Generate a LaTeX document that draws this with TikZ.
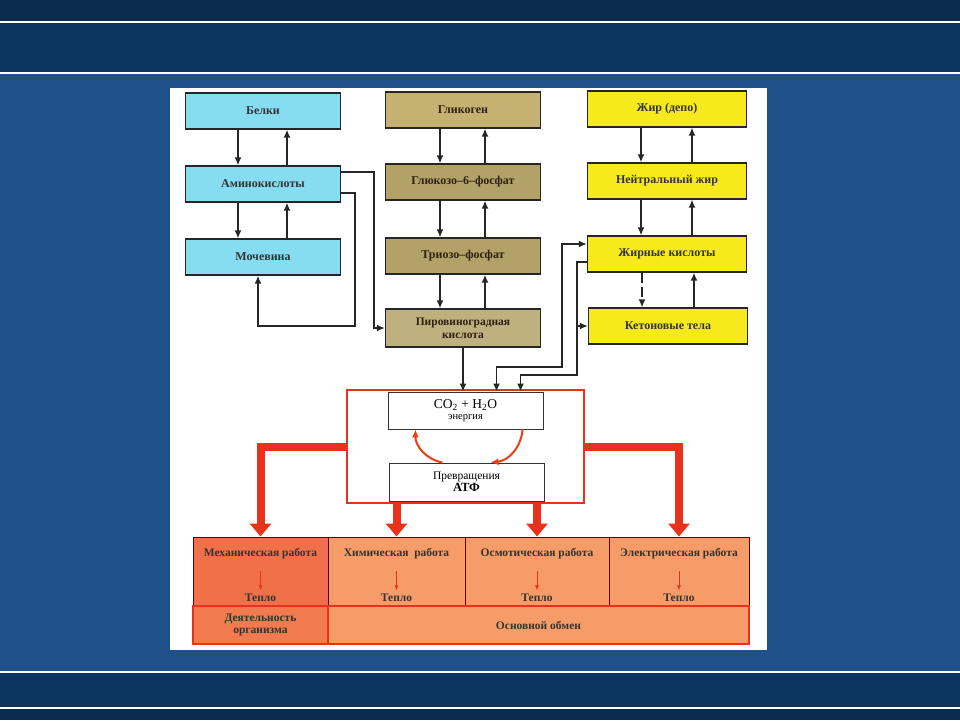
\documentclass[tikz,border=0pt]{standalone}
\usepackage{fontspec}
\setmainfont{Liberation Serif}
\usetikzlibrary{arrows.meta}
\definecolor{slideblue}{HTML}{1F5089}
\definecolor{slidedark}{HTML}{0B2C4D}
\definecolor{slideband}{HTML}{0D365F}
\definecolor{protein}{HTML}{86DDF2}
\definecolor{carb}{HTML}{B3A268}
\definecolor{fat}{HTML}{F7EA1C}
\definecolor{atpred}{HTML}{E8321C}
\definecolor{workorange}{HTML}{F59C69}
\definecolor{mechred}{HTML}{F07149}

\begin{document}
\begin{tikzpicture}[x=1pt,y=-1pt,>={Latex[length=8pt,width=7pt]},
    box/.style={draw=black!85,line width=1.3pt,minimum width=155pt,minimum height=36pt,
        inner sep=2pt,align=center,text=black!80,font=\fontsize{12}{13}\selectfont\bfseries},
    inbox/.style={draw=black!80,line width=0.9pt,fill=white,minimum width=155pt,
        minimum height=37pt,inner sep=1pt,align=center},
    link/.style={->,line width=1.5pt,draw=black!85},
    cyclearr/.style={->,line width=2pt,draw=atpred!85!orange},
    bigarr/.style={draw=atpred,line width=8pt,-{Triangle[width=21pt,length=13pt]}},
    cell/.style={draw=red!35!black,line width=1pt,minimum height=69pt,inner sep=0pt},
    basecell/.style={draw=atpred,line width=2pt,minimum height=38pt,inner sep=0pt,align=center,
        font=\fontsize{11.5}{12}\selectfont\bfseries,text=black!80},
    worktext/.style={inner sep=1pt,font=\fontsize{11.5}{12}\selectfont\bfseries,text=black!80},
    heatarr/.style={-{Latex[length=5pt,width=4pt]},line width=1pt,draw=atpred,shorten <=11pt,shorten >=2pt}]
    % slide
    \useasboundingbox (0,0) rectangle (960,720);
    \fill[slideblue] (0,0) rectangle (960,720);
    \fill[slidedark] (0,0) rectangle (960,22);
    \fill[slideband] (0,22) rectangle (960,73);
    \fill[slideband] (0,672) rectangle (960,708);
    \fill[slidedark] (0,708) rectangle (960,720);
    \draw[white,line width=2pt] (0,22) -- (960,22) (0,73) -- (960,73) (0,672) -- (960,672) (0,708) -- (960,708);
    \fill[white] (170,88) rectangle (767,650);

    % sources
    \node[box,fill=protein] (belki) at (263,111) {Белки};
    \node[box,fill=protein] (amino) at (263,184) {Аминокислоты};
    \node[box,fill=protein] (mochevina) at (263,257) {Мочевина};
    \node[box,fill=carb!110!black,text=black!75!brown] (glikogen) at (463,110) {Гликоген};
    \node[box,fill=carb,text=black!75!brown] (glukoza) at (463,182) {Глюкозо–6–фосфат};
    \node[box,fill=carb,text=black!75!brown] (trioza) at (463,256) {Триозо–фосфат};
    \node[box,fill=carb!85!white,text=black!75!brown,minimum height=38pt,
        font=\fontsize{11.5}{13}\selectfont\bfseries] (piruvat) at (463,328) {Пировиноградная\\кислота};
    \node[box,fill=fat,minimum width=159pt] (zhir) at (667,109) {Жир (депо)};
    \node[box,fill=fat,minimum width=159pt] (neitral) at (667,181) {Нейтральный жир};
    \node[box,fill=fat,minimum width=159pt] (zhirkisl) at (667,254) {Жирные кислоты};
    \node[box,fill=fat,minimum width=159pt] (keton) at (668,326) {Кетоновые тела};

    \draw[link] ([xshift=-25]belki.south) -- ([xshift=-25]amino.north);
    \draw[link] ([xshift=24]amino.north) -- ([xshift=24]belki.south);
    \draw[link] ([xshift=-25]amino.south) -- ([xshift=-25]mochevina.north);
    \draw[link] ([xshift=24]mochevina.north) -- ([xshift=24]amino.south);
    \draw[link] ([xshift=-23]glikogen.south) -- ([xshift=-23]glukoza.north);
    \draw[link] ([xshift=22]glukoza.north) -- ([xshift=22]glikogen.south);
    \draw[link] ([xshift=-23]glukoza.south) -- ([xshift=-23]trioza.north);
    \draw[link] ([xshift=22]trioza.north) -- ([xshift=22]glukoza.south);
    \draw[link] ([xshift=-23]trioza.south) -- ([xshift=-23]piruvat.north);
    \draw[link] ([xshift=22]piruvat.north) -- ([xshift=22]trioza.south);
    \draw[link] ([xshift=-26]zhir.south) -- ([xshift=-26]neitral.north);
    \draw[link] ([xshift=25]neitral.north) -- ([xshift=25]zhir.south);
    \draw[link] ([xshift=-26]neitral.south) -- ([xshift=-26]zhirkisl.north);
    \draw[link] ([xshift=25]zhirkisl.north) -- ([xshift=25]neitral.south);
    \draw[link,dash pattern=on 10pt off 4pt] ([xshift=-25]zhirkisl.south) -- ([xshift=-26]keton.north);
    \draw[link] ([xshift=26]keton.north) -- ([xshift=27]zhirkisl.south);

    % energy box
    \node[draw=atpred,line width=2pt,minimum width=237pt,minimum height=113pt] (atpbox) at (465.5,446.5) {};
    \node[inbox] (co2) at (465.5,410.5) {\fontsize{13.5}{14}\selectfont CO\textsubscript{2} + H\textsubscript{2}O\\[-1pt]
        \fontsize{10.5}{11}\selectfont энергия};
    \node[inbox,minimum height=38pt] (atf) at (466.5,482) {\fontsize{11.5}{13}\selectfont Превращения\\
        \fontsize{12.5}{13}\selectfont\bfseries АТФ};
    \draw[cyclearr] ([xshift=-24]atf.north) to[bend left=40] ([xshift=-50]co2.south);
    \draw[cyclearr] ([xshift=57]co2.south) to[bend left=40] ([xshift=24]atf.north);

    \coordinate (loopA) at (355,326);
    \coordinate (fatA) at (562,367);
    \coordinate (fatB) at (577,375);
    \draw[link] ([yshift=12]amino.east) -- ++(33,0) |- (piruvat.west);
    \draw[link] ([yshift=-9]amino.east) -| (loopA) -| ([xshift=-5]mochevina.south);
    \draw[link] (piruvat.south) -- (piruvat.south |- co2.north);
    \draw[link,<->] ([yshift=10]zhirkisl.west) -| (fatA) -| ([xshift=31]co2.north);
    \draw[link] ([yshift=-8]zhirkisl.west) -| (fatB) -| ([xshift=55]co2.north);
    \draw[link] (fatB |- keton.west) -- (keton.west);

    % work table
    \node[cell,fill=mechred,minimum width=135pt] (mech) at (260.5,571.5) {};
    \node[cell,fill=workorange,minimum width=137pt] (chem) at (396.5,571.5) {};
    \node[cell,fill=workorange,minimum width=144pt] (osm) at (537,571.5) {};
    \node[cell,fill=workorange,minimum width=140pt] (elec) at (679,571.5) {};
    \node[basecell,fill=mechred!80!workorange,minimum width=135pt] (deyat) at (260.5,625) {Деятельность\\организма};
    \node[basecell,fill=workorange,minimum width=421pt] (osnov) at (538.5,625) {Основной обмен};
    \foreach \c/\t in {mech/{Механическая работа},chem/{Химическая~ работа},
        osm/{Осмотическая работа},elec/{Электрическая работа}}{
        \node[worktext] (\c-title) at ([yshift=-17]\c.north) {\t};
        \node[worktext] (\c-heat) at ([yshift=9]\c.south) {Тепло};
        \draw[heatarr] (\c-title) -- (\c-heat);
    }

    \draw[bigarr] (atpbox.west) -| (mech.north);
    \draw[bigarr] (atpbox.east) -| (elec.north);
    \draw[bigarr] (chem.north |- atpbox.south) -- (chem.north);
    \draw[bigarr] (osm.north |- atpbox.south) -- (osm.north);
\end{tikzpicture}
\end{document}
